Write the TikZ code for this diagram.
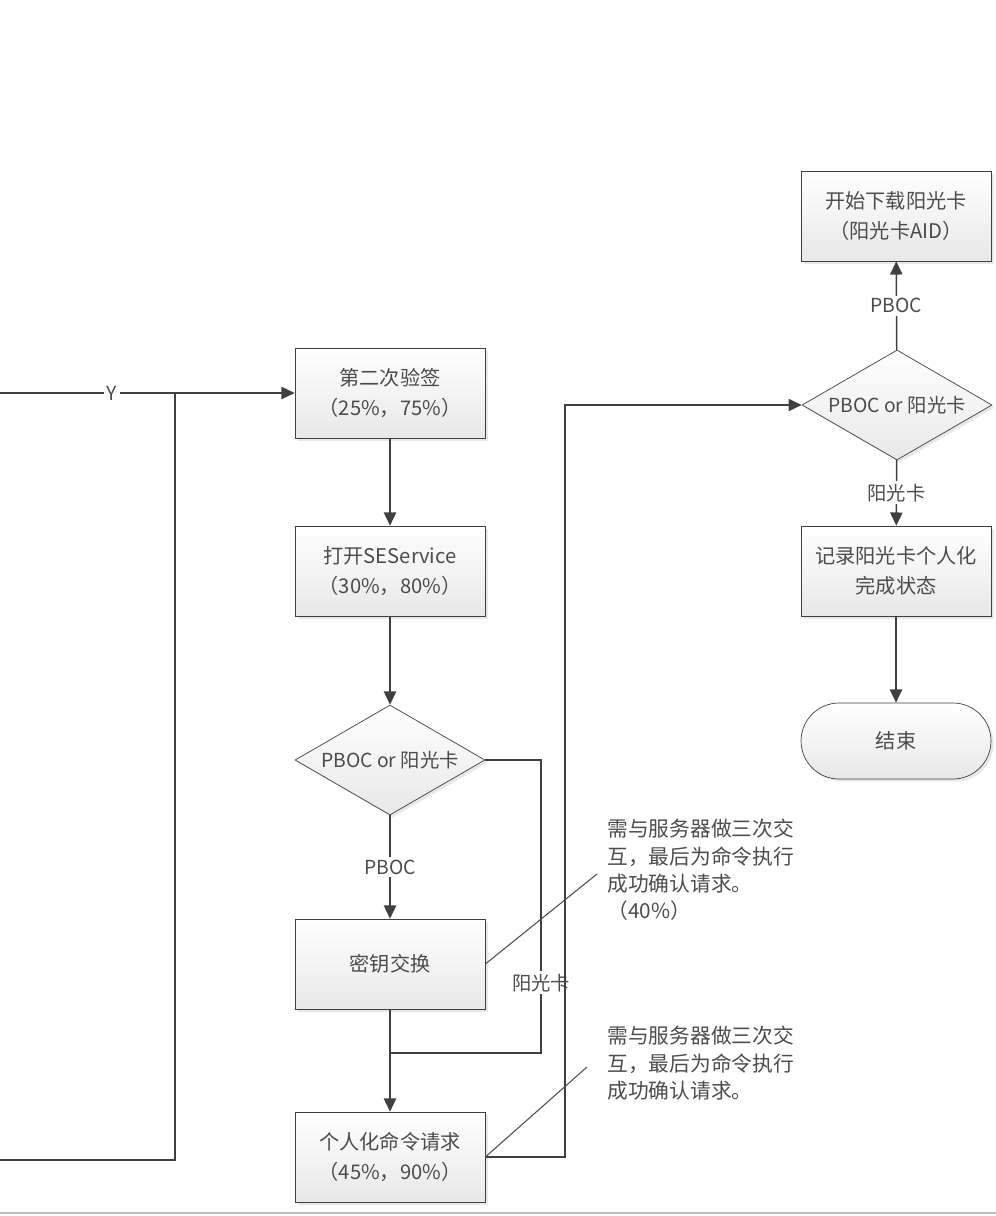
\documentclass[tikz,border=0pt]{standalone}
\usepackage{fontspec}
\setmainfont{Noto Sans CJK SC}
\usetikzlibrary{arrows.meta,shapes.geometric,shadows}

\tikzset{
  flowbox/.style={draw=black!75, rectangle, minimum width=3.8cm, minimum height=1.8cm,
    top color=white, bottom color=black!9, text=black!70, align=center,
    font=\fontsize{11.5}{17}\selectfont,
    drop shadow={opacity=0.18, shadow xshift=1.5pt, shadow yshift=-1.5pt}},
  decision/.style={draw=black!75, diamond, aspect=1.7, inner sep=0pt,
    minimum width=3.8cm, minimum height=2.2cm,
    top color=white, bottom color=black!9, text=black!70,
    font=\fontsize{11}{17}\selectfont,
    drop shadow={opacity=0.18, shadow xshift=1.5pt, shadow yshift=-1.5pt}},
  endbox/.style={draw=black!75, rectangle, rounded corners=0.76cm,
    minimum width=3.8cm, minimum height=1.52cm,
    top color=white, bottom color=black!9, text=black!70,
    font=\fontsize{11.5}{17}\selectfont,
    drop shadow={opacity=0.18, shadow xshift=1.5pt, shadow yshift=-1.5pt}},
  note/.style={anchor=north west, align=left, inner sep=0pt, text=black!70,
    font=\fontsize{11.8}{15.4}\selectfont},
  lbl/.style={fill=white, inner sep=1.5pt, text=black!70, font=\fontsize{11}{12}\selectfont},
  flow/.style={draw=black!75, line width=0.8pt},
  arr/.style={flow, -{Triangle[length=7.5pt,width=7pt]}}
}

\begin{document}
\begin{tikzpicture}[x=0.02cm, y=-0.02cm]
  \useasboundingbox (0,0) rectangle (996,1216);

  % left column
  \node[flowbox] (verify2) at (390,393) {第二次验签\\（25\%，75\%）};
  \node[flowbox] (opense) at (390,571) {打开SEService\\（30\%，80\%）};
  \node[decision] (type1) at (390,760) {PBOC or 阳光卡};
  \node[flowbox] (keyex) at (390,964) {密钥交换};
  \node[flowbox] (perso) at (390,1157) {个人化命令请求\\（45\%，90\%）};

  % right column
  \node[flowbox] (download) at (896,216) {开始下载阳光卡\\（阳光卡AID）};
  \node[decision] (type2) at (897,405) {PBOC or 阳光卡};
  \node[flowbox] (record) at (896,571) {记录阳光卡个人化\\完成状态};
  \node[endbox] (finish) at (896,741) {结束};

  % notes
  \node[note] (note1) at (607,819) {需与服务器做三次交\\互，最后为命令执行\\成功确认请求。\\（40\%）};
  \node[note] (note2) at (607,1026) {需与服务器做三次交\\互，最后为命令执行\\成功确认请求。};

  \coordinate (yin) at (0,393);
  \coordinate (yback) at (0,1160);
  \coordinate (joint) at (175,393);
  \coordinate (merge) at (390,1053);
  \coordinate (tip1) at (597,874);
  \coordinate (tip2) at (587,1067);

  % incoming lines
  \draw[arr] (yin) -- node[lbl, pos=0.38] {Y} (verify2.west);
  \draw[flow] (yback) -- (175,1160) -- (joint);

  \draw[arr] (verify2) -- (opense);
  \draw[arr] (opense) -- (type1);
  \draw[arr] (type1) -- node[lbl] {PBOC} (keyex);
  \draw[flow] (type1.east) -- (541,760) -- node[lbl, pos=0.76] {阳光卡} (541,1053) -- (merge);
  \draw[arr] (keyex) -- (perso);
  \draw[arr] (perso.east) -- (565,1157) -- (565,405) -- (type2.west);

  \draw[arr] (type2) -- node[lbl] {PBOC} (download);
  \draw[arr] (type2) -- node[lbl] {阳光卡} (record);
  \draw[arr] (record) -- (finish);

  % note lines
  \draw[black!70, line width=0.6pt] (keyex.east) -- (tip1);
  \draw[black!70, line width=0.6pt] (perso.east) -- (tip2);

  \draw[black!25, line width=1.5pt] (0,1213) -- (996,1213);
\end{tikzpicture}
\end{document}
